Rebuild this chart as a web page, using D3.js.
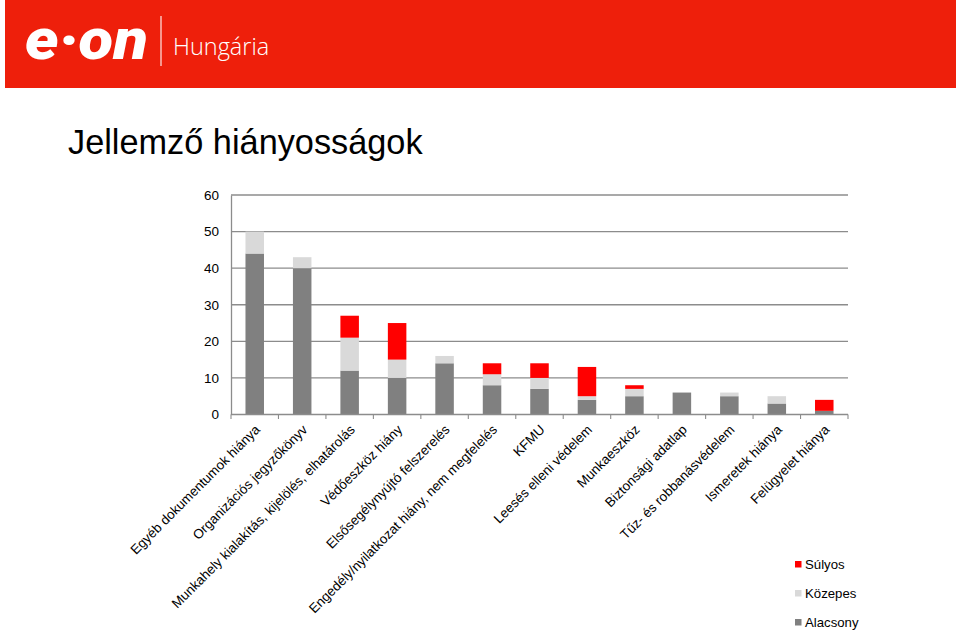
<!DOCTYPE html>
<html>
<head>
<meta charset="utf-8">
<script src="https://cdn.jsdelivr.net/npm/d3@7/dist/d3.min.js"></script>
<style>
  html, body { margin: 0; padding: 0; background: #fff; }
  svg { display: block; }
</style>
</head>
<body>
<svg id="chart" width="960" height="630"></svg>
<script>
const categories = [
  "Egyéb dokumentumok hiánya",
  "Organizációs jegyzőkönyv",
  "Munkahely kialakítás, kijelölés, elhatárolás",
  "Védőeszköz hiány",
  "Elsősegélynyújtó felszerelés",
  "Engedély/nyilatkozat hiány, nem megfelelés",
  "KFMU",
  "Leesés elleni védelem",
  "Munkaeszköz",
  "Biztonsági adatlap",
  "Tűz- és robbanásvédelem",
  "Ismeretek hiánya",
  "Felügyelet hiánya"
];
const alacsony = [44, 40, 12, 10, 14, 8, 7, 4, 5, 6, 5, 3, 1];
const kozepes  = [6, 3, 9, 5, 2, 3, 3, 1, 2, 0, 1, 2, 0];
const sulyos   = [0, 0, 6, 10, 0, 3, 4, 8, 1, 0, 0, 0, 3];
const seriesNames = ["Alacsony", "Közepes", "Súlyos"];
const seriesColors = ["#808080", "#d9d9d9", "#ff0000"];
const yTicks = [0, 10, 20, 30, 40, 50, 60];

const svg = d3.select("#chart");
const font = "Arial, 'Liberation Sans', sans-serif";

// Header band
svg.append("rect").attr("x", 5).attr("y", 0).attr("width", 951).attr("height", 88).attr("fill", "#ee1f0b");
svg.append("text").attr("x", 25).attr("y", 59)
  .attr("font-family", "Roboto, 'DejaVu Sans', sans-serif").attr("font-weight", 900)
  .attr("font-style", "italic").attr("font-size", 58).attr("fill", "#fff")
  .attr("textLength", 123).attr("lengthAdjust", "spacingAndGlyphs").text("e·on");
svg.append("line").attr("x1", 161).attr("x2", 161).attr("y1", 16).attr("y2", 66)
  .attr("stroke", "#fff").attr("stroke-width", 1.2).attr("opacity", 0.9);
svg.append("text").attr("x", 173).attr("y", 55)
  .attr("font-family", "'Open Sans', Lato, sans-serif").attr("font-weight", 300)
  .attr("font-size", 23.5).attr("fill", "#fff").text("Hungária");

// Title
svg.append("text").attr("x", 68).attr("y", 154)
  .attr("font-family", font).attr("font-size", 34.3).attr("fill", "#000")
  .text("Jellemző hiányosságok");

// Chart
const x0 = 231, x1 = 848, yTop = 195, yBot = 414.5;
const x = d3.scaleBand().domain(categories).range([x0, x1]).paddingInner(0.61).paddingOuter(0.305);
const xb = d3.scaleBand().domain(categories).range([x0, x1]);
const y = d3.scaleLinear().domain([0, 60]).range([yBot, yTop]);

// gridlines
svg.append("g").selectAll("line").data(yTicks.filter(d => d > 0)).join("line")
  .attr("x1", x0).attr("x2", x1).attr("y1", d => y(d)).attr("y2", d => y(d))
  .attr("stroke", "#8c8c8c").attr("stroke-width", 1.3);

// y axis
const yAxis = svg.append("g").attr("transform", `translate(${x0},0)`)
  .call(d3.axisLeft(y).tickValues(yTicks).tickSize(0).tickPadding(12));
yAxis.select(".domain").attr("stroke", "#8c8c8c").attr("stroke-width", 1.3);
yAxis.selectAll("text").attr("font-family", font).attr("font-size", 13.5).attr("fill", "#000");

// stacked bars
const table = categories.map((c, i) => ({ cat: c, Alacsony: alacsony[i], "Közepes": kozepes[i], "Súlyos": sulyos[i] }));
const stacked = d3.stack().keys(seriesNames)(table);
svg.append("g").selectAll("g").data(stacked).join("g")
  .attr("fill", (d, i) => seriesColors[i])
  .selectAll("rect").data(d => d).join("rect")
  .attr("x", d => x(d.data.cat)).attr("width", x.bandwidth())
  .attr("y", d => y(d[1])).attr("height", d => y(d[0]) - y(d[1]));

// x axis: boundary ticks
const bounds = categories.map(c => xb(c)).concat([x1]);
svg.append("line").attr("x1", x0).attr("x2", x1).attr("y1", yBot).attr("y2", yBot)
  .attr("stroke", "#8c8c8c").attr("stroke-width", 1.3);
svg.append("g").selectAll("line").data(bounds).join("line")
  .attr("x1", d => d).attr("x2", d => d).attr("y1", yBot).attr("y2", yBot + 4.5)
  .attr("stroke", "#8c8c8c").attr("stroke-width", 1.1);

// x labels
svg.append("g").selectAll("text").data(categories).join("text")
  .attr("transform", d => `translate(${xb(d) + xb.bandwidth() / 2 + 6},${yBot + 16}) rotate(-45)`)
  .attr("text-anchor", "end")
  .attr("font-family", font).attr("font-size", 13.4).attr("fill", "#000")
  .text(d => d);

// legend
const legendOrder = [2, 1, 0];
const lg = svg.append("g").selectAll("g").data(legendOrder).join("g")
  .attr("transform", (d, i) => `translate(795,${561 + i * 29})`);
lg.append("rect").attr("width", 6.5).attr("height", 6.5).attr("fill", d => seriesColors[d]);
lg.append("text").attr("x", 10).attr("y", 7.5)
  .attr("font-family", font).attr("font-size", 13.2).attr("fill", "#000")
  .text(d => seriesNames[d]);
</script>
</body>
</html>
